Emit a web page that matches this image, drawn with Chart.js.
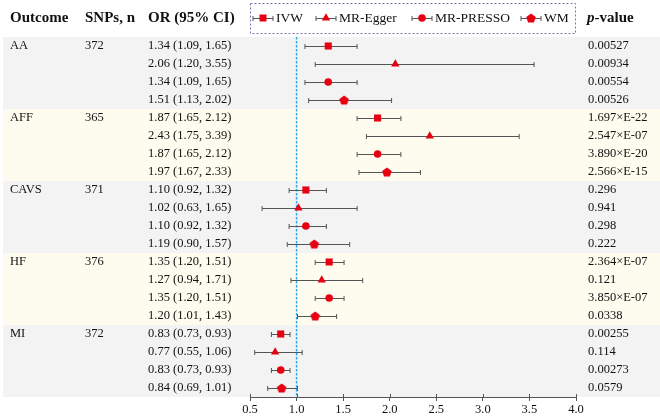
<!DOCTYPE html>
<html>
<head>
<meta charset="utf-8">
<script src="https://cdn.jsdelivr.net/npm/chart.js@4/dist/chart.umd.min.js"></script>
<style>
  html, body { margin: 0; padding: 0; background: #fff; }
  #wrap { width: 660px; height: 420px; position: relative; }
</style>
</head>
<body>
<div id="wrap"><canvas id="forest"></canvas></div>
<script>
// outcomes and instruments
const outcomes = ['AA', 'AFF', 'CAVS', 'HF', 'MI'];
const snps = [372, 365, 371, 376, 372];
const methods = ['IVW', 'MR-Egger', 'MR-PRESSO', 'WM'];

// odds ratios with 95% CI, one value per outcome
const orIVW = [1.34, 1.87, 1.10, 1.35, 0.83];
const loIVW = [1.09, 1.65, 0.92, 1.20, 0.73];
const hiIVW = [1.65, 2.12, 1.32, 1.51, 0.93];
const pIVW = ['0.00527', '1.697×E-22', '0.296', '2.364×E-07', '0.00255'];

const orEgger = [2.06, 2.43, 1.02, 1.27, 0.77];
const loEgger = [1.20, 1.75, 0.63, 0.94, 0.55];
const hiEgger = [3.55, 3.39, 1.65, 1.71, 1.06];
const pEgger = ['0.00934', '2.547×E-07', '0.941', '0.121', '0.114'];

const orPresso = [1.34, 1.87, 1.10, 1.35, 0.83];
const loPresso = [1.09, 1.65, 0.92, 1.20, 0.73];
const hiPresso = [1.65, 2.12, 1.32, 1.51, 0.93];
const pPresso = ['0.00554', '3.890×E-20', '0.298', '3.850×E-07', '0.00273'];

const orWM = [1.51, 1.97, 1.19, 1.20, 0.84];
const loWM = [1.13, 1.67, 0.90, 1.01, 0.69];
const hiWM = [2.02, 2.33, 1.57, 1.43, 1.01];
const pWM = ['0.00526', '2.566×E-15', '0.222', '0.0338', '0.0579'];

// x axis ticks
const xTicks = [0.5, 1.0, 1.5, 2.0, 2.5, 3.0, 3.5, 4.0];

const RED = '#e60012';
const BAR = '#555555';
const SERIF = '"Liberation Serif", "Times New Roman", serif';

// pentagon marker (not built into Chart.js)
function makePentagon(r) {
  const c = document.createElement('canvas');
  const s = Math.ceil(r * 2 + 2);
  c.width = s; c.height = s;
  const g = c.getContext('2d');
  g.fillStyle = RED;
  g.beginPath();
  for (let i = 0; i < 5; i++) {
    const a = -Math.PI / 2 + i * 2 * Math.PI / 5;
    const px = s / 2 + r * Math.cos(a), py = s / 2 + r * Math.sin(a) + 0.5;
    i ? g.lineTo(px, py) : g.moveTo(px, py);
  }
  g.closePath();
  g.fill();
  return c;
}
const pentagon = makePentagon(5);

const ors = [orIVW, orEgger, orPresso, orWM];
const los = [loIVW, loEgger, loPresso, loWM];
const his = [hiIVW, hiEgger, hiPresso, hiWM];
const ps = [pIVW, pEgger, pPresso, pWM];
const styles = ['rect', 'triangle', 'circle', pentagon];
const radii = [5, 4.8, 3.8, 5];

const datasets = methods.map((m, k) => ({
  label: m,
  data: outcomes.map((o, g) => ({ x: ors[k][g], y: g * 4 + k + 1, lo: los[k][g], hi: his[k][g] })),
  pointStyle: styles[k],
  pointRadius: radii[k],
  pointHoverRadius: radii[k],
  backgroundColor: RED,
  borderColor: RED,
  borderWidth: 0
}));

function fmt(v) { return v.toFixed(2); }

function drawMarker(ctx, k, x, y) {
  ctx.save();
  ctx.fillStyle = RED;
  ctx.beginPath();
  if (k === 0) {
    ctx.rect(x - 3.5, y - 3.5, 7, 7);
  } else if (k === 1) {
    ctx.moveTo(x, y - 4.8);
    ctx.lineTo(x + 4.2, y + 2.4);
    ctx.lineTo(x - 4.2, y + 2.4);
    ctx.closePath();
  } else if (k === 2) {
    ctx.arc(x, y, 3.8, 0, Math.PI * 2);
  } else {
    ctx.drawImage(pentagon, x - pentagon.width / 2, y - pentagon.height / 2);
    ctx.restore();
    return;
  }
  ctx.fill();
  ctx.restore();
}

function errBar(ctx, x1, x2, y, cap) {
  ctx.beginPath();
  ctx.moveTo(x1, y); ctx.lineTo(x2, y);
  ctx.moveTo(x1, y - cap); ctx.lineTo(x1, y + cap);
  ctx.moveTo(x2, y - cap); ctx.lineTo(x2, y + cap);
  ctx.stroke();
}

const forestPlugin = {
  id: 'forest',
  beforeDraw(chart) {
    const { ctx, scales } = chart;
    const y = scales.y;
    ctx.save();
    outcomes.forEach((o, g) => {
      const top = y.getPixelForValue(g * 4 + 0.5);
      const bot = y.getPixelForValue(g * 4 + 4.5);
      ctx.fillStyle = g % 2 === 0 ? '#f3f3f3' : '#fefcef';
      ctx.fillRect(3, top, chart.width - 3, bot - top);
    });
    ctx.restore();
  },
  beforeDatasetsDraw(chart) {
    const { ctx, chartArea, scales } = chart;
    const x = scales.x, y = scales.y;
    ctx.save();
    // reference line at OR = 1
    ctx.strokeStyle = '#2aa8f2';
    ctx.lineWidth = 1.5;
    ctx.setLineDash([2.5, 1.5]);
    const x1 = x.getPixelForValue(1);
    ctx.beginPath();
    ctx.moveTo(x1, chartArea.top);
    ctx.lineTo(x1, chartArea.bottom - 1);
    ctx.stroke();
    ctx.setLineDash([]);
    // confidence intervals
    ctx.lineWidth = 1;
    ctx.strokeStyle = BAR;
    chart.data.datasets.forEach(ds => {
      ds.data.forEach(d => {
        const py = Math.round(y.getPixelForValue(d.y)) + 0.5;
        errBar(ctx, x.getPixelForValue(d.lo), x.getPixelForValue(d.hi), py, 2.5);
      });
    });
    ctx.restore();
  },
  afterDraw(chart) {
    const { ctx, scales, chartArea } = chart;
    const x = scales.x, y = scales.y;
    ctx.save();
    // tick marks poke above the axis line too
    ctx.strokeStyle = BAR;
    ctx.beginPath();
    xTicks.forEach(v => {
      const tx = Math.round(x.getPixelForValue(v)) + 0.5;
      ctx.moveTo(tx, chartArea.bottom - 3);
      ctx.lineTo(tx, chartArea.bottom);
    });
    ctx.stroke();

    ctx.textBaseline = 'middle';
    ctx.fillStyle = '#111';
    // header
    ctx.font = 'bold 15px ' + SERIF;
    ctx.fillText('Outcome', 10, 18);
    ctx.fillText('SNPs, n', 85, 18);
    ctx.fillText('OR (95% CI)', 148, 18);
    ctx.font = 'italic bold 15px ' + SERIF;
    ctx.fillText('p', 587, 18);
    const pw = ctx.measureText('p').width;
    ctx.font = 'bold 15px ' + SERIF;
    ctx.fillText('-value', 587 + pw, 18);

    // rows
    ctx.font = '12.5px ' + SERIF;
    outcomes.forEach((o, g) => {
      const y0 = y.getPixelForValue(g * 4 + 1);
      ctx.fillText(o, 10, y0);
      ctx.fillText(String(snps[g]), 85, y0);
      methods.forEach((m, k) => {
        const py = y.getPixelForValue(g * 4 + k + 1);
        ctx.fillText(fmt(ors[k][g]) + ' (' + fmt(los[k][g]) + ', ' + fmt(his[k][g]) + ')', 148, py);
        ctx.fillText(ps[k][g], 588, py);
      });
    });

    // legend box
    ctx.strokeStyle = '#7b74a8';
    ctx.lineWidth = 1;
    ctx.setLineDash([2, 2]);
    ctx.strokeRect(250.5, 3.5, 325, 30);
    ctx.setLineDash([]);
    const legX = [253, 316, 412, 521];
    ctx.font = '13.5px ' + SERIF;
    ctx.strokeStyle = BAR;
    methods.forEach((m, k) => {
      const lx = legX[k], ly = 18.5;
      errBar(ctx, lx, lx + 20, ly, 2.5);
      drawMarker(ctx, k, lx + 10, ly - 0.5);
      ctx.fillStyle = '#111';
      ctx.fillText(m, lx + 23, 18);
    });
    ctx.restore();
  }
};

new Chart(document.getElementById('forest'), {
  type: 'scatter',
  data: { datasets },
  plugins: [forestPlugin],
  options: {
    responsive: true,
    maintainAspectRatio: false,
    animation: false,
    layout: { padding: { left: 250, right: 84, top: 37, bottom: 0 } },
    plugins: { legend: { display: false }, tooltip: { enabled: false } },
    scales: {
      x: {
        type: 'linear',
        min: 0.5,
        max: 4.0,
        afterBuildTicks(scale) { scale.ticks = xTicks.map(v => ({ value: v })); },
        afterFit(scale) { scale.height = 23; },
        ticks: {
          color: '#111',
          padding: 1,
          font: { family: SERIF, size: 12.5 },
          callback: v => Number(v).toFixed(1)
        },
        grid: { drawOnChartArea: false, drawTicks: true, tickLength: 4, color: BAR },
        border: { color: BAR }
      },
      y: {
        type: 'linear',
        min: 0.5,
        max: 20.5,
        reverse: true,
        display: false
      }
    }
  }
});
</script>
</body>
</html>
